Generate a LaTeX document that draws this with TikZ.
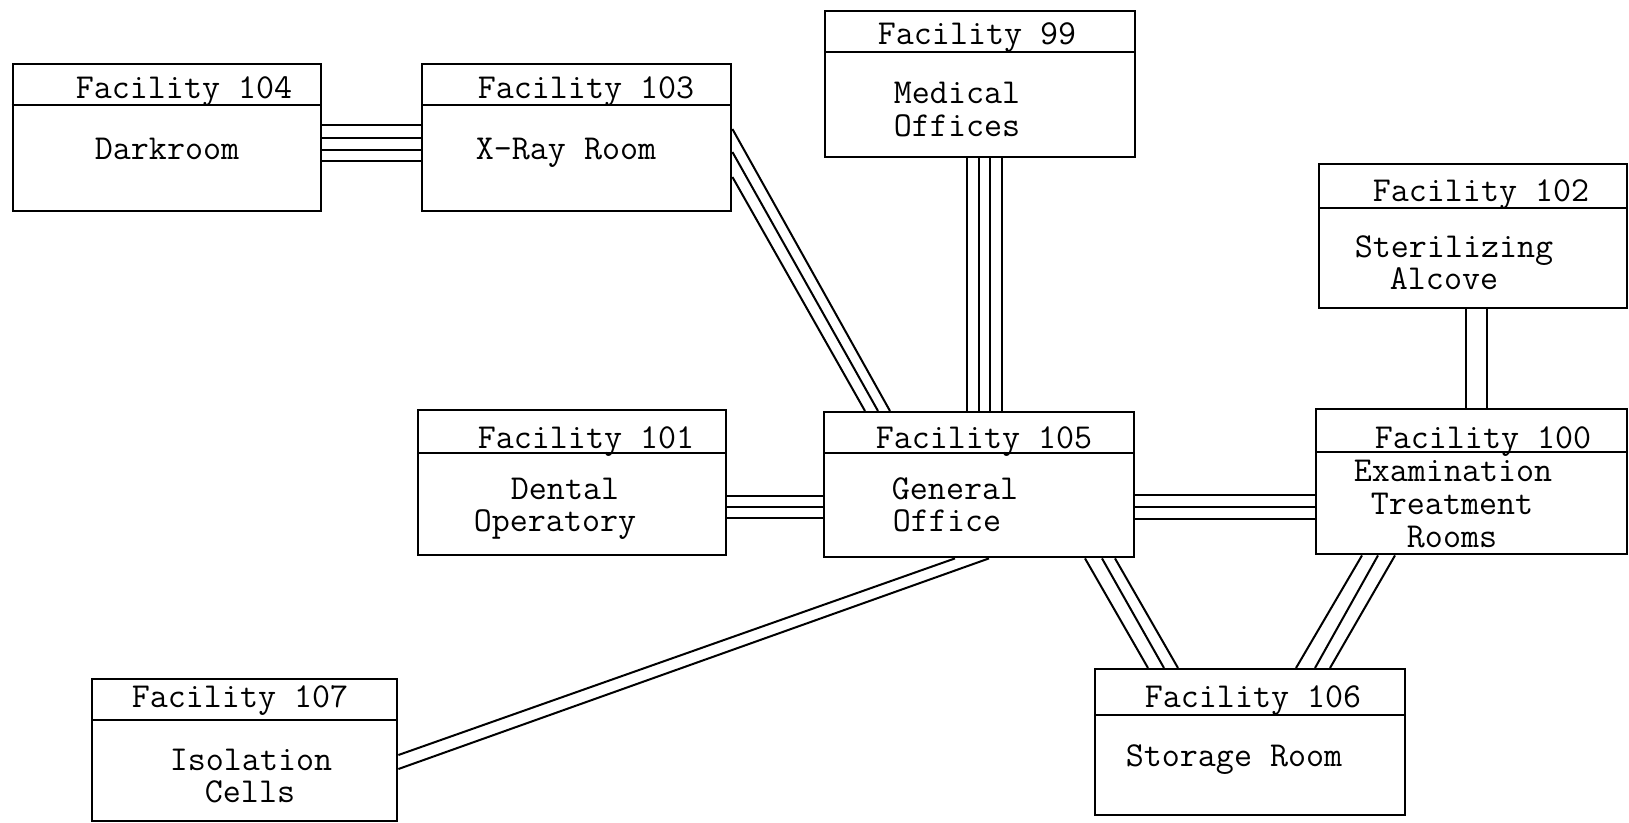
\documentclass[tikz,border=0pt]{standalone}
\begin{document}
\begin{tikzpicture}[x=1pt,y=-1pt,
  room/.style={draw, line width=2.4pt, inner sep=0pt, anchor=north west},
  rule/.style={line width=2.4pt},
  link/.style={line width=2pt},
  lbl/.style={font=\ttfamily\fontsize{35}{38}\selectfont, inner sep=0pt,
              text height=21pt, text depth=0pt, anchor=center}]
\useasboundingbox (0,0) rectangle (1629,822);

% rooms
\node[room, minimum width=308.5pt, minimum height=147pt] (f104) at (11.5,63) {};
\node[room, minimum width=309pt, minimum height=147pt] (f103) at (421,63) {};
\node[room, minimum width=310pt, minimum height=146pt] (f99) at (824,10) {};
\node[room, minimum width=308pt, minimum height=144pt] (f102) at (1318,163) {};
\node[room, minimum width=308pt, minimum height=145pt] (f101) at (417,409) {};
\node[room, minimum width=310pt, minimum height=145pt] (f105) at (823,411) {};
\node[room, minimum width=311pt, minimum height=145pt] (f100) at (1315,408) {};
\node[room, minimum width=305pt, minimum height=142pt] (f107) at (91,678) {};
\node[room, minimum width=310pt, minimum height=146pt] (f106) at (1094,668) {};

% title rules
\draw[rule] ([yshift=-42pt]f104.north west) -- ([yshift=-42pt]f104.north east);
\draw[rule] ([yshift=-42pt]f103.north west) -- ([yshift=-42pt]f103.north east);
\draw[rule] ([yshift=-42pt]f99.north west) -- ([yshift=-42pt]f99.north east);
\draw[rule] ([yshift=-45pt]f102.north west) -- ([yshift=-45pt]f102.north east);
\draw[rule] ([yshift=-44pt]f101.north west) -- ([yshift=-44pt]f101.north east);
\draw[rule] ([yshift=-42pt]f105.north west) -- ([yshift=-42pt]f105.north east);
\draw[rule] ([yshift=-44pt]f100.north west) -- ([yshift=-44pt]f100.north east);
\draw[rule] ([yshift=-42pt]f107.north west) -- ([yshift=-42pt]f107.north east);
\draw[rule] ([yshift=-47pt]f106.north west) -- ([yshift=-47pt]f106.north east);

% labels
\node[lbl] (t104) at (184,88) {Facility 104};
\node[lbl] (n104) at (167,149) {Darkroom};
\node[lbl] (t103) at (586,88) {Facility 103};
\node[lbl] (n103) at (566,149) {X-Ray Room};
\node[lbl] (t99) at (977,34) {Facility 99};
\node[lbl] (n99a) at (957,93) {Medical};
\node[lbl] (n99b) at (957,126) {Offices};
\node[lbl] (t102) at (1481,191) {Facility 102};
\node[lbl] (n102a) at (1454,247) {Sterilizing};
\node[lbl] (n102b) at (1444,279) {Alcove};
\node[lbl] (t101) at (586,438) {Facility 101};
\node[lbl] (n101a) at (565,489) {Dental};
\node[lbl] (n101b) at (555,521) {Operatory};
\node[lbl] (t105) at (984,438) {Facility 105};
\node[lbl] (n105a) at (955,489) {General};
\node[lbl] (n105b) at (947,521) {Office};
\node[lbl] (t100) at (1483,438) {Facility 100};
\node[lbl] (n100a) at (1453,471) {Examination};
\node[lbl] (n100b) at (1452,504) {Treatment};
\node[lbl] (n100c) at (1452,537) {Rooms};
\node[lbl] (t107) at (240,697) {Facility 107};
\node[lbl] (n107a) at (251,760) {Isolation};
\node[lbl] (n107b) at (250,792) {Cells};
\node[lbl] (t106) at (1253,697) {Facility 106};
\node[lbl] (n106) at (1234,756) {Storage Room};

% 104 -- 103
\foreach \y in {125,138,150,161}
  \draw[link] (f104.east |- 0,\y) -- (f103.west |- 0,\y);
% 103 -- 105
\foreach \y/\x in {129/890,152/878,177/865}
  \draw[link] (f103.east |- 0,\y) -- (f105.north -| \x,0);
% 99 -- 105
\foreach \x in {967,979,990,1002}
  \draw[link] (f99.south -| \x,0) -- (f105.north -| \x,0);
% 102 -- 100
\foreach \x in {1466,1487}
  \draw[link] (f102.south -| \x,0) -- (f100.north -| \x,0);
% 101 -- 105
\foreach \y in {496,507,518}
  \draw[link] (f101.east |- 0,\y) -- (f105.west |- 0,\y);
% 105 -- 100
\foreach \y in {495,507,519}
  \draw[link] (f105.east |- 0,\y) -- (f100.west |- 0,\y);
% 105 -- 106
\foreach \a/\b in {1085/1148,1102/1164,1115/1178}
  \draw[link] (f105.south -| \a,0) -- (f106.north -| \b,0);
% 100 -- 106
\foreach \a/\b in {1362/1296,1378/1315,1395/1330}
  \draw[link] (f100.south -| \a,0) -- (f106.north -| \b,0);
% 105 -- 107
\foreach \a/\b in {955/755,989/769}
  \draw[link] (f105.south -| \a,0) -- (f107.east |- 0,\b);
\end{tikzpicture}
\end{document}
